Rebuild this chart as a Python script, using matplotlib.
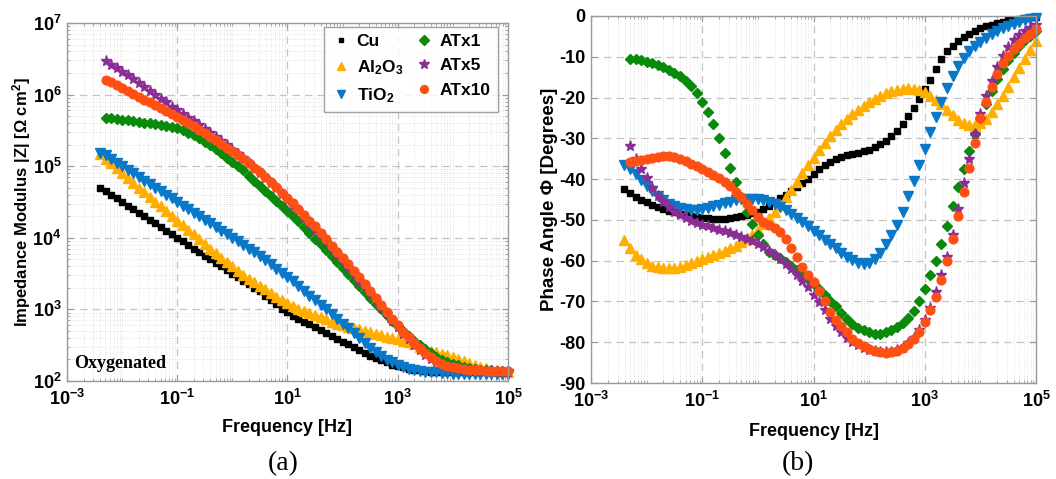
import numpy as np
import matplotlib
matplotlib.use("Agg")
from matplotlib import pyplot as plt
from matplotlib.ticker import FixedLocator, LogLocator, NullFormatter, MultipleLocator

plt.rcParams['font.family'] = ['Liberation Sans', 'DejaVu Sans']
plt.rcParams['font.weight'] = 'bold'
plt.rcParams['axes.labelweight'] = 'bold'
plt.rcParams['mathtext.fontset'] = 'custom'
plt.rcParams['mathtext.rm'] = 'Liberation Sans:bold'
plt.rcParams['mathtext.bf'] = 'Liberation Sans:bold'
plt.rcParams['mathtext.it'] = 'Liberation Sans:bold:italic'
plt.rcParams['mathtext.default'] = 'bf'
plt.rcParams['axes.unicode_minus'] = False

# EIS sweep: 10 points per decade, 1e5 Hz down to ~4e-3 Hz
freq_long = np.logspace(-2.4, 5.0, 75)   # Cu, Al2O3, TiO2
freq_short = freq_long[1:]               # ATx1, ATx5, ATx10 (start at 5e-3 Hz)

# log10 |Z| [Ohm cm2], low -> high frequency
cu_logz = [4.70, 4.65, 4.60, 4.55, 4.50, 4.45, 4.40, 4.35, 4.30, 4.25,
           4.20, 4.15, 4.10, 4.05, 4.00, 3.95, 3.90, 3.85, 3.80, 3.75,
           3.70, 3.65, 3.60, 3.55, 3.50, 3.45, 3.40, 3.35, 3.30, 3.25,
           3.19, 3.13, 3.07, 3.01, 2.96, 2.91, 2.87, 2.83, 2.79, 2.75,
           2.71, 2.67, 2.63, 2.59, 2.55, 2.51, 2.47, 2.43, 2.39, 2.35,
           2.32, 2.29, 2.26, 2.23, 2.21, 2.19, 2.17, 2.16, 2.15, 2.14,
           2.13, 2.13, 2.12, 2.12, 2.12, 2.12, 2.12, 2.12, 2.12, 2.12,
           2.12, 2.12, 2.12, 2.12, 2.12]
al2o3_logz = [5.17, 5.10, 5.04, 4.97, 4.90, 4.84, 4.77, 4.70, 4.64, 4.57,
              4.50, 4.44, 4.37, 4.31, 4.24, 4.18, 4.11, 4.05, 3.98, 3.92,
              3.85, 3.79, 3.72, 3.66, 3.60, 3.54, 3.48, 3.43, 3.38, 3.33,
              3.28, 3.23, 3.18, 3.13, 3.09, 3.05, 3.01, 2.98, 2.95, 2.92,
              2.89, 2.86, 2.83, 2.80, 2.78, 2.76, 2.74, 2.72, 2.70, 2.68,
              2.66, 2.64, 2.62, 2.60, 2.58, 2.56, 2.54, 2.51, 2.48, 2.45,
              2.42, 2.40, 2.38, 2.36, 2.34, 2.31, 2.28, 2.25, 2.22, 2.20,
              2.18, 2.16, 2.15, 2.14, 2.13]
tio2_logz = [5.19, 5.15, 5.10, 5.05, 5.00, 4.95, 4.90, 4.85, 4.80, 4.75,
             4.70, 4.65, 4.60, 4.55, 4.50, 4.45, 4.40, 4.35, 4.30, 4.25,
             4.20, 4.15, 4.10, 4.05, 4.00, 3.95, 3.90, 3.85, 3.80, 3.74,
             3.69, 3.63, 3.57, 3.51, 3.45, 3.39, 3.32, 3.26, 3.19, 3.13,
             3.06, 3.00, 2.93, 2.87, 2.80, 2.74, 2.67, 2.60, 2.53, 2.46,
             2.40, 2.35, 2.30, 2.26, 2.22, 2.19, 2.17, 2.15, 2.14, 2.13,
             2.12, 2.12, 2.11, 2.11, 2.10, 2.10, 2.10, 2.10, 2.10, 2.10,
             2.10, 2.10, 2.10, 2.10, 2.10]
atx1_logz = [5.68, 5.67, 5.66, 5.65, 5.64, 5.63, 5.62, 5.61, 5.60, 5.59,
             5.58, 5.56, 5.55, 5.53, 5.50, 5.47, 5.43, 5.39, 5.34, 5.29,
             5.24, 5.18, 5.12, 5.06, 5.00, 4.94, 4.87, 4.80, 4.73, 4.66,
             4.59, 4.52, 4.45, 4.38, 4.30, 4.23, 4.15, 4.07, 3.99, 3.91,
             3.83, 3.75, 3.66, 3.58, 3.50, 3.41, 3.33, 3.24, 3.16, 3.08,
             3.00, 2.92, 2.84, 2.77, 2.70, 2.63, 2.56, 2.50, 2.44, 2.39,
             2.34, 2.30, 2.27, 2.24, 2.22, 2.20, 2.18, 2.17, 2.16, 2.15,
             2.15, 2.14, 2.14, 2.14]
atx5_logz = [6.47, 6.42, 6.37, 6.32, 6.27, 6.22, 6.16, 6.11, 6.05, 6.00,
             5.94, 5.89, 5.83, 5.78, 5.73, 5.68, 5.63, 5.58, 5.52, 5.47,
             5.41, 5.35, 5.29, 5.23, 5.17, 5.11, 5.04, 4.98, 4.91, 4.84,
             4.77, 4.69, 4.61, 4.53, 4.45, 4.37, 4.28, 4.20, 4.11, 4.03,
             3.94, 3.85, 3.76, 3.67, 3.58, 3.49, 3.40, 3.31, 3.21, 3.12,
             3.02, 2.93, 2.84, 2.75, 2.66, 2.58, 2.50, 2.43, 2.37, 2.31,
             2.27, 2.23, 2.20, 2.18, 2.17, 2.16, 2.15, 2.15, 2.14, 2.14,
             2.14, 2.13, 2.13, 2.13]
atx10_logz = [6.21, 6.17, 6.13, 6.09, 6.05, 6.01, 5.97, 5.93, 5.89, 5.85,
              5.81, 5.77, 5.73, 5.69, 5.65, 5.60, 5.56, 5.51, 5.46, 5.41,
              5.36, 5.31, 5.26, 5.21, 5.16, 5.10, 5.04, 4.98, 4.92, 4.85,
              4.78, 4.71, 4.63, 4.55, 4.48, 4.40, 4.32, 4.24, 4.16, 4.07,
              3.98, 3.89, 3.80, 3.72, 3.63, 3.54, 3.45, 3.36, 3.26, 3.16,
              3.06, 2.96, 2.87, 2.78, 2.69, 2.61, 2.53, 2.46, 2.39, 2.33,
              2.28, 2.24, 2.21, 2.19, 2.18, 2.17, 2.16, 2.15, 2.15, 2.14,
              2.14, 2.14, 2.14, 2.14]

# phase angle [deg], low -> high frequency
cu_phase = [-42.5, -43.5, -44.3, -45.0, -45.7, -46.3, -46.8, -47.3, -47.7, -48.1,
            -48.5, -48.8, -49.1, -49.3, -49.5, -49.6, -49.7, -49.7, -49.7, -49.6,
            -49.4, -49.1, -48.8, -48.4, -48.0, -47.3, -46.5, -45.6, -44.7, -43.8,
            -42.9, -42.0, -41.0, -39.9, -38.7, -37.5, -36.5, -35.7, -35.0, -34.5,
            -34.1, -33.8, -33.5, -33.2, -32.8, -32.2, -31.5, -30.6, -29.5, -28.2,
            -26.5, -24.6, -22.6, -20.4, -18.0, -15.6, -13.0, -10.6, -8.7, -7.3,
            -6.2, -5.2, -4.3, -3.6, -3.0, -2.5, -2.1, -1.7, -1.4, -1.1,
            -0.9, -0.7, -0.5, -0.3, -0.2]
al2o3_phase = [-55.0, -57.0, -58.5, -59.7, -60.6, -61.2, -61.6, -61.8, -61.9, -61.8,
               -61.5, -61.1, -60.6, -60.1, -59.6, -59.1, -58.6, -58.1, -57.6, -57.0,
               -56.3, -55.5, -54.6, -53.6, -52.4, -51.1, -49.6, -48.0, -46.3, -44.5,
               -42.6, -40.6, -38.6, -36.6, -34.7, -32.9, -31.1, -29.5, -28.0, -26.6,
               -25.3, -24.1, -23.0, -22.0, -21.1, -20.3, -19.6, -19.0, -18.5, -18.1,
               -17.8, -17.7, -17.8, -18.1, -18.7, -19.5, -20.5, -21.7, -23.0, -24.3,
               -25.4, -26.2, -26.7, -26.8, -26.3, -25.2, -23.6, -21.7, -19.6, -17.4,
               -15.0, -12.8, -10.6, -8.4, -6.2]
tio2_phase = [-36.5, -37.5, -38.8, -40.2, -41.6, -43.0, -44.2, -45.2, -46.0, -46.6,
              -47.1, -47.4, -47.6, -47.6, -47.4, -47.1, -46.7, -46.3, -45.9, -45.5,
              -45.1, -44.9, -44.8, -44.8, -44.9, -45.2, -45.6, -46.1, -46.8, -47.6,
              -48.5, -49.5, -50.5, -51.6, -52.7, -53.8, -54.9, -56.0, -57.0, -58.0,
              -59.0, -59.8, -60.5, -60.8, -60.6, -59.6, -58.0, -56.0, -53.8, -51.2,
              -48.0, -44.2, -40.5, -36.5, -32.5, -28.5, -24.8, -21.0, -17.6, -14.6,
              -12.2, -10.3, -8.7, -7.4, -6.3, -5.3, -4.5, -3.7, -3.0, -2.4,
              -1.9, -1.5, -1.1, -0.8, -0.5]
atx1_phase = [-10.6, -10.5, -10.8, -11.2, -11.6, -12.1, -12.6, -13.2, -13.9, -14.8,
              -16.0, -17.2, -19.0, -21.0, -23.5, -26.5, -29.8, -33.5, -37.2, -40.8,
              -44.5, -48.0, -51.0, -53.7, -56.0, -57.8, -58.6, -59.4, -60.3, -61.3,
              -62.4, -63.5, -64.5, -65.6, -66.9, -68.3, -69.8, -71.2, -72.8, -74.3,
              -75.5, -76.4, -77.1, -77.6, -77.9, -77.9, -77.6, -77.0, -76.2, -75.2,
              -74.0, -72.3, -69.9, -66.9, -63.6, -60.0, -56.0, -51.4, -46.6, -42.0,
              -37.6, -33.0, -29.0, -25.0, -21.5, -18.3, -15.5, -13.0, -10.9, -9.0,
              -7.4, -6.0, -4.8, -3.8]
atx5_phase = [-32.0, -35.0, -37.5, -39.8, -42.1, -44.1, -45.6, -46.9, -48.0, -48.9,
              -49.6, -50.2, -50.7, -51.2, -51.6, -52.0, -52.4, -52.8, -53.2, -53.6,
              -54.1, -54.6, -55.2, -55.9, -56.7, -57.6, -58.6, -59.6, -60.7, -62.0,
              -63.4, -64.9, -66.5, -68.3, -70.2, -72.2, -74.2, -76.0, -77.6, -78.9,
              -79.9, -80.7, -81.3, -81.8, -82.2, -82.4, -82.5, -82.4, -82.0, -81.3,
              -80.3, -78.9, -77.0, -74.5, -71.5, -67.8, -63.6, -59.0, -53.6, -47.3,
              -41.0, -35.0, -29.0, -24.0, -19.7, -16.0, -12.6, -9.8, -7.6, -5.8,
              -4.6, -3.6, -2.9, -2.3]
atx10_phase = [-35.7, -35.5, -35.3, -35.1, -34.9, -34.6, -34.3, -34.3, -34.5, -35.0,
               -35.5, -36.2, -36.9, -37.6, -38.3, -39.0, -39.8, -40.8, -41.8, -43.1,
               -44.5, -46.0, -47.6, -49.2, -50.4, -51.2, -52.0, -53.0, -54.7, -56.8,
               -59.0, -61.5, -63.5, -65.2, -67.4, -70.0, -72.6, -74.5, -76.0, -77.5,
               -79.2, -80.3, -81.0, -81.7, -82.2, -82.5, -82.6, -82.5, -82.1, -81.3,
               -80.4, -79.3, -77.6, -75.0, -72.2, -68.8, -64.8, -60.2, -54.8, -49.0,
               -43.2, -37.2, -31.2, -25.0, -21.0, -17.3, -14.2, -11.6, -9.7, -8.2,
               -6.8, -5.5, -4.4, -3.3]

labels = ['Cu', 'Al$_2$O$_3$', 'TiO$_2$', 'ATx1', 'ATx5', 'ATx10']
colors = ['#000000', '#FFAE00', '#0A78C8', '#0A8A0A', '#8A2E96', '#FF5014']
markers = ['s', '^', 'v', 'D', '*', 'o']
msizes = [3.8, 7.0, 7.0, 5.3, 8.0, 6.3]
freqs = [freq_long, freq_long, freq_long, freq_short, freq_short, freq_short]
logz = [cu_logz, al2o3_logz, tio2_logz, atx1_logz, atx5_logz, atx10_logz]
phases = [cu_phase, al2o3_phase, tio2_phase, atx1_phase, atx5_phase, atx10_phase]

FRAME = '#9a9a9a'


def style_axes(ax, ylog):
    ax.set_xscale('log')
    ax.set_xlim(1e-3, 1e5)
    ax.xaxis.set_major_locator(FixedLocator([1e-3, 1e-1, 1e1, 1e3, 1e5]))
    ax.xaxis.set_minor_locator(LogLocator(base=10, subs=np.arange(1, 10), numticks=20))
    ax.xaxis.set_minor_formatter(NullFormatter())
    for s in ax.spines.values():
        s.set_color(FRAME)
        s.set_linewidth(1.0)
    ax.tick_params(which='both', direction='in', top=True, right=True,
                   color=FRAME, labelsize=13)
    ax.tick_params(which='major', length=4, pad=6)
    ax.tick_params(axis='y', which='major', pad=4)
    ax.tick_params(which='minor', length=2)
    ax.grid(which='major', ls=(0, (6, 4)), color='#c4c4c4', lw=0.9)
    if ylog:
        ax.grid(which='minor', ls=':', color='#dcdcdc', lw=0.6)
    else:
        ax.xaxis.grid(which='minor', ls=':', color='#dcdcdc', lw=0.6)
    ax.set_axisbelow(True)


fig = plt.figure(figsize=(10.56, 4.79), dpi=100)

# (a) impedance modulus
ax1 = fig.add_axes([0.0634, 0.2046, 0.4176, 0.7474])
style_axes(ax1, True)
ax1.set_yscale('log')
ax1.set_ylim(1e2, 1e7)
ax1.yaxis.set_major_locator(LogLocator(base=10, numticks=10))
ax1.yaxis.set_minor_locator(LogLocator(base=10, subs=np.arange(2, 10), numticks=20))
ax1.yaxis.set_minor_formatter(NullFormatter())
for f, z, lab, c, m, ms in zip(freqs, logz, labels, colors, markers, msizes):
    ax1.plot(f, 10 ** np.array(z), ls='none', marker=m, ms=ms, color=c,
             mec=c, label=lab, clip_on=False)
ax1.set_xlabel('Frequency [Hz]', fontsize=13)
ax1.set_ylabel('Impedance Modulus |Z| [Ω cm$^2$]', fontsize=12)
ax1.xaxis.set_label_coords(0.5, -0.105)
ax1.yaxis.set_label_coords(-0.077, 0.5)
ax1.text(0.016, 0.05, 'Oxygenated', transform=ax1.transAxes, fontsize=13,
         family=['Liberation Serif'], weight='bold', ha='left', va='center')
leg = ax1.legend(ncol=2, loc='upper right', bbox_to_anchor=(0.977, 0.99),
                 borderaxespad=0.0, fontsize=12.5, frameon=True, fancybox=False,
                 edgecolor='#8a8a8a', handletextpad=0.3, columnspacing=0.6,
                 labelspacing=0.55, borderpad=0.4, handlelength=1.2,
                 markerscale=0.9)
leg.get_frame().set_linewidth(1.0)

# (b) phase angle
ax2 = fig.add_axes([0.5597, 0.2004, 0.4214, 0.7662])
style_axes(ax2, False)
ax2.set_ylim(-90, 0)
ax2.yaxis.set_major_locator(MultipleLocator(10))
for f, p, c, m, ms in zip(freqs, phases, colors, markers, msizes):
    ax2.plot(f, p, ls='none', marker=m, ms=ms, color=c, mec=c, clip_on=False)
ax2.set_xlabel('Frequency [Hz]', fontsize=13)
ax2.set_ylabel('Phase Angle Φ [Degrees]', fontsize=13.5)
ax2.xaxis.set_label_coords(0.5, -0.11)
ax2.yaxis.set_label_coords(-0.074, 0.5)

fig.text(0.268, 0.033, '(a)', fontsize=20, family=['Liberation Serif'],
         ha='center', va='center', weight='normal')
fig.text(0.756, 0.033, '(b)', fontsize=20, family=['Liberation Serif'],
         ha='center', va='center', weight='normal')

fig.savefig('out.png', dpi=100)
